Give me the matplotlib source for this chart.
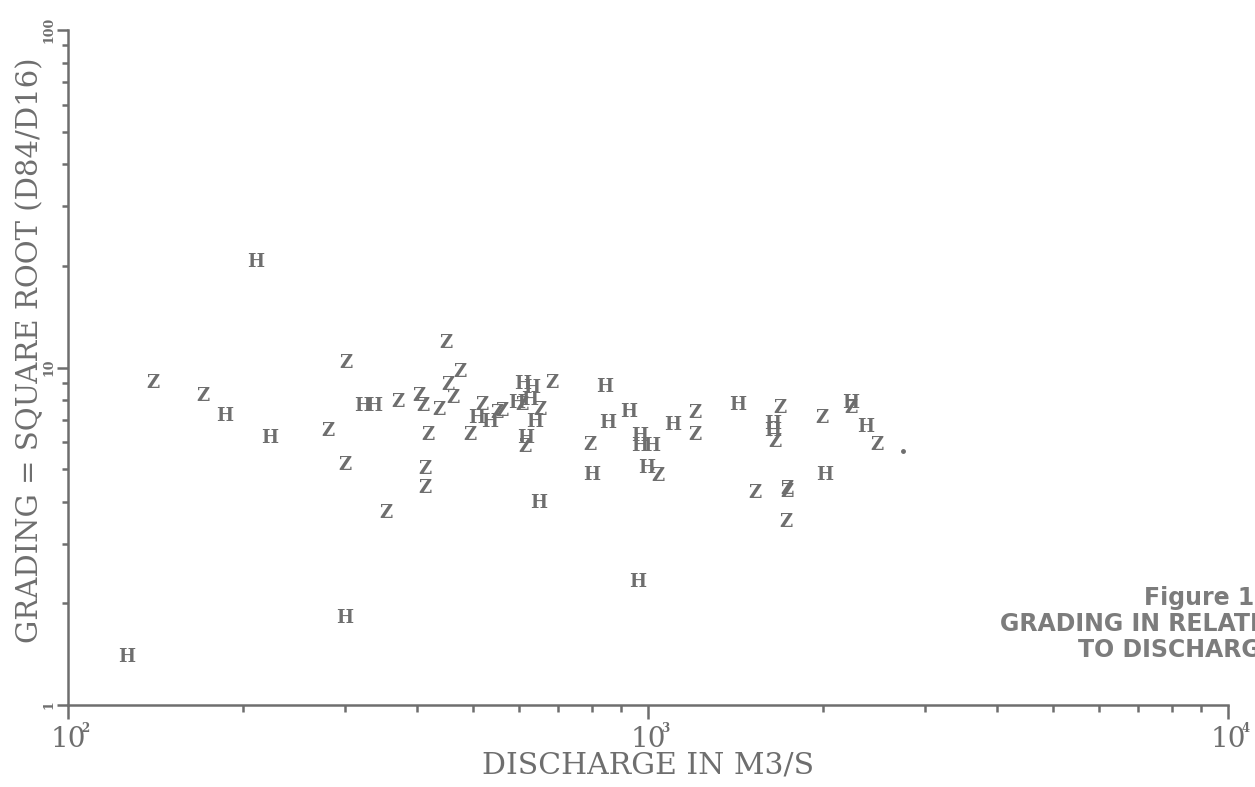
import numpy as np
import matplotlib
matplotlib.use("Agg")
import matplotlib.pyplot as plt
from matplotlib.ticker import LogLocator, NullFormatter, FixedLocator, FixedFormatter

# Muestras tipo H: caudal (m3/s) y graduacion sqrt(D84/D16)
h_caudal = [126.4, 186.4, 211, 223, 300.4, 322.5, 337.1, 507, 534, 594.5,
            608.7, 631, 626, 638, 614, 649, 843, 927, 853, 1104,
            798, 969, 969, 1016, 996, 961, 1430, 1643, 1643, 2239,
            2375, 2020]
h_grad = [1.387, 7.18, 20.5, 6.18, 1.81, 7.69, 7.69, 7.09, 6.90, 7.85,
          8.93, 8.70, 8.01, 6.90, 6.18, 3.97, 8.76, 7.38, 6.85, 6.76,
          4.80, 6.27, 5.85, 5.85, 5.04, 2.31, 7.74, 6.80, 6.48, 7.85,
          6.66, 4.80]

# Muestras tipo Z
z_caudal = [140.1, 170.9, 280.7, 301.4, 300.4, 353.4, 370.6, 448.4, 474, 452,
            461, 402.9, 409.3, 436.2, 417.5, 412.6, 412.6, 517.3, 493.4, 549,
            560, 606, 683, 651, 614, 794, 1040, 1205, 1205, 1689,
            1656, 1995, 2239, 2483, 1530, 1737, 1737, 1730]
z_grad = [9.0, 8.23, 6.48, 10.3, 5.14, 3.71, 7.90, 11.82, 9.69, 8.87,
          8.12, 8.23, 7.69, 7.48, 6.31, 5.0, 4.40, 7.74, 6.31, 7.33,
          7.43, 7.74, 9.0, 7.48, 5.81, 5.89, 4.77, 7.33, 6.31, 7.59,
          6.02, 7.09, 7.59, 5.89, 4.25, 4.28, 4.37, 3.49]

# Punto suelto sin letra
punto_caudal = [2752]
punto_grad = [5.66]

x_ticks = [1e2, 1e3, 1e4]
x_exp = ['2', '3', '4']
y_ticks = [1, 10, 100]
y_labels = ['1', '10', '100']

gris = '#6e6e6e'
serif = 'DejaVu Serif'

fig = plt.figure(figsize=(12.55, 7.87), dpi=100)
ax = fig.add_axes([68 / 1255, 82 / 787, 1160 / 1255, 675 / 787])
ax.set_xscale('log')
ax.set_yscale('log')
ax.set_xlim(1e2, 1e4)
ax.set_ylim(1, 100)

for s in ['top', 'right']:
    ax.spines[s].set_visible(False)
for s in ['left', 'bottom']:
    ax.spines[s].set_color(gris)
    ax.spines[s].set_linewidth(1.8)

# Letras como marcadores
for x, y in zip(h_caudal, h_grad):
    ax.text(x, y, 'H', ha='center', va='center', fontsize=13,
            fontweight='bold', family=serif, color=gris)
for x, y in zip(z_caudal, z_grad):
    ax.text(x, y, 'Z', ha='center', va='center', fontsize=13,
            fontweight='bold', family=serif, color=gris)
ax.plot(punto_caudal, punto_grad, 'o', ms=2.5, color=gris)

# Ejes y marcas
ax.xaxis.set_major_locator(FixedLocator(x_ticks))
ax.xaxis.set_major_formatter(FixedFormatter(['10'] * len(x_ticks)))
ax.xaxis.set_minor_locator(LogLocator(base=10, subs=np.arange(2, 10)))
ax.xaxis.set_minor_formatter(NullFormatter())
ax.yaxis.set_major_locator(FixedLocator(y_ticks))
ax.yaxis.set_major_formatter(FixedFormatter(y_labels))
ax.yaxis.set_minor_locator(LogLocator(base=10, subs=np.arange(2, 10)))
ax.yaxis.set_minor_formatter(NullFormatter())

ax.tick_params(axis='x', which='major', direction='out', length=10, width=1.8,
               color=gris, labelcolor=gris, labelsize=20, pad=5)
ax.tick_params(axis='x', which='minor', direction='out', length=5, width=1.8,
               color=gris)
ax.tick_params(axis='y', which='major', direction='out', length=8, width=1.8,
               color=gris, labelcolor=gris, labelsize=9, pad=1)
ax.tick_params(axis='y', which='minor', direction='out', length=4, width=1.8,
               color=gris)
for t in ax.get_xticklabels():
    t.set_family(serif)
for t in ax.get_yticklabels():
    t.set_family(serif)
    t.set_rotation(90)
    t.set_va('center')
    t.set_fontweight('bold')

# Exponentes pequenos sobre cada "10"
for v, e in zip(x_ticks, x_exp):
    ax.annotate(e, xy=(v, 0), xycoords=('data', 'axes fraction'),
                xytext=(9.5, -17), textcoords='offset points', ha='left',
                va='center', fontsize=8.5, fontweight='bold', family=serif,
                color=gris, annotation_clip=False)

ax.set_xlabel('DISCHARGE IN M3/S', fontsize=21.5, family=serif, color=gris)
ax.xaxis.label.set_va('center')
ax.xaxis.set_label_coords(0.5, (705 - 765) / 675)
ax.set_ylabel('GRADING = SQUARE ROOT (D84/D16)', fontsize=21, family=serif,
              color=gris)
ax.yaxis.label.set_va('center')
ax.yaxis.set_label_coords((30 - 68) / 1160, (705 - 350) / 675)

# Rotulo de la figura (cortado en el borde derecho)
rot = dict(fontsize=17, fontweight='bold', family='DejaVu Sans',
           color='#7c7c7c', ha='left', va='center')
fig.text(1144 / 1255, 1 - 598 / 787, 'Figure 1', **rot)
fig.text(1000 / 1255, 1 - 624 / 787, 'GRADING IN RELATION', **rot)
fig.text(1078 / 1255, 1 - 650 / 787, 'TO DISCHARGE', **rot)

fig.savefig('out.png', dpi=100)
